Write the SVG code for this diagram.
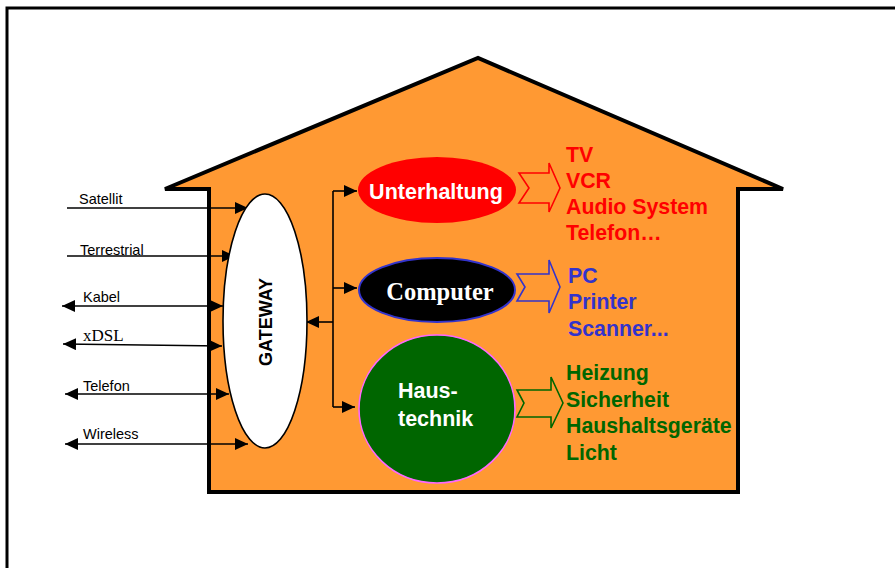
<svg xmlns="http://www.w3.org/2000/svg" width="895" height="568" viewBox="0 0 895 568">
<style>
.lbl{font-family:"Liberation Sans",Arial,sans-serif;font-size:14.5px;fill:#000}
.ser{font-family:"Liberation Serif","Times New Roman",serif;font-size:17px;fill:#000}
.node{font-family:"Liberation Sans",Arial,sans-serif;font-weight:bold;font-size:21.5px;fill:#fff}
.list{font-family:"Liberation Sans",Arial,sans-serif;font-weight:bold;font-size:21.3px}
.conn{stroke:#000;stroke-width:1.6;fill:none}
</style>
<defs>
<marker id="ah" markerUnits="userSpaceOnUse" markerWidth="14" markerHeight="12" refX="13" refY="6" orient="auto-start-reverse" viewBox="0 0 14 12">
<path d="M0,0 L13,6 L0,12 Z" fill="#000"/>
</marker>
</defs>
<rect x="7" y="8" width="900" height="600" fill="#fff" stroke="#000" stroke-width="3"/>
<g id="house">
<path d="M165,189 L478,58 L783,189 L738,189 L738,492 L209,492 L209,189 Z" fill="#FF9933" stroke="#000" stroke-width="4" stroke-linejoin="miter"/>
</g>
<g id="connectors">
<line class="conn" x1="67" y1="208" x2="248" y2="208" marker-end="url(#ah)"/>
<line class="conn" x1="67" y1="256" x2="235" y2="256" marker-end="url(#ah)"/>
<line class="conn" x1="62" y1="306" x2="223" y2="306" marker-start="url(#ah)" marker-end="url(#ah)"/>
<line class="conn" x1="63" y1="344" x2="222" y2="346" marker-start="url(#ah)" marker-end="url(#ah)"/>
<line class="conn" x1="65" y1="394" x2="229" y2="394" marker-start="url(#ah)" marker-end="url(#ah)"/>
<line class="conn" x1="65" y1="444" x2="248" y2="444" marker-start="url(#ah)" marker-end="url(#ah)"/>
<line class="conn" x1="333" y1="322" x2="306" y2="322" marker-end="url(#ah)"/>
<line class="conn" x1="333" y1="191" x2="333" y2="407"/>
<line class="conn" x1="333" y1="191" x2="357" y2="191" marker-end="url(#ah)"/>
<line class="conn" x1="333" y1="288" x2="357" y2="288" marker-end="url(#ah)"/>
<line class="conn" x1="333" y1="407" x2="355" y2="407" marker-end="url(#ah)"/>
<path d="M519,173 L549,173 L549,163 L560,188 L549,212 L549,203 L519,203 L529,188 Z" fill="none" stroke="#FF0000" stroke-width="1.6"/>
<path d="M517,274 L549,274 L549,260 L560,287 L549,313 L549,301 L517,301 L525,287 Z" fill="none" stroke="#3333CC" stroke-width="1.6"/>
<path d="M517,390 L551,390 L551,377 L563,403 L551,428 L551,417 L517,417 L524,403 Z" fill="none" stroke="#006600" stroke-width="1.6"/>
</g>
<g id="labels">
<text class="lbl" x="79" y="204">Satellit</text>
<text class="lbl" x="80" y="255">Terrestrial</text>
<text class="lbl" x="83" y="302">Kabel</text>
<text class="ser" x="83" y="341">xDSL</text>
<text class="lbl" x="83" y="391">Telefon</text>
<text class="lbl" x="83" y="439">Wireless</text>
</g>
<g id="gateway">
<ellipse cx="265" cy="321" rx="42" ry="127" fill="#fff" stroke="#000" stroke-width="1.6"/>
<text x="0" y="0" transform="translate(271.5,322) rotate(-90)" text-anchor="middle" font-family="Liberation Sans, Arial, sans-serif" font-weight="bold" font-size="18">GATEWAY</text>
</g>
<g id="unterhaltung">
<ellipse cx="437" cy="190" rx="79" ry="33" fill="#FF0000"/>
<text class="node" x="436" y="199" text-anchor="middle">Unterhaltung</text>
</g>
<g id="computer">
<ellipse cx="437" cy="290" rx="78" ry="32" fill="#000" stroke="#3333CC" stroke-width="2"/>
<text x="440" y="300" text-anchor="middle" font-family="Liberation Serif, Times New Roman, serif" font-weight="bold" font-size="24.5" fill="#fff">Computer</text>
</g>
<g id="haustechnik">
<ellipse cx="437" cy="409" rx="78" ry="74" fill="#006600" stroke="#FF66FF" stroke-width="1.6"/>
<text class="node" x="398" y="398">Haus-</text>
<text class="node" x="398" y="426">technik</text>
</g>
<g id="list-unterhaltung" class="list" fill="#FF0000">
<text x="566" y="162">TV</text>
<text x="566" y="188">VCR</text>
<text x="566" y="214">Audio System</text>
<text x="566" y="240">Telefon…</text>
</g>
<g id="list-computer" class="list" fill="#3333CC">
<text x="568" y="283">PC</text>
<text x="568" y="309">Printer</text>
<text x="568" y="336">Scanner...</text>
</g>
<g id="list-haustechnik" class="list" fill="#006600">
<text x="566" y="380">Heizung</text>
<text x="566" y="407">Sicherheit</text>
<text x="566" y="433">Haushaltsgeräte</text>
<text x="566" y="460">Licht</text>
</g>
</svg>
